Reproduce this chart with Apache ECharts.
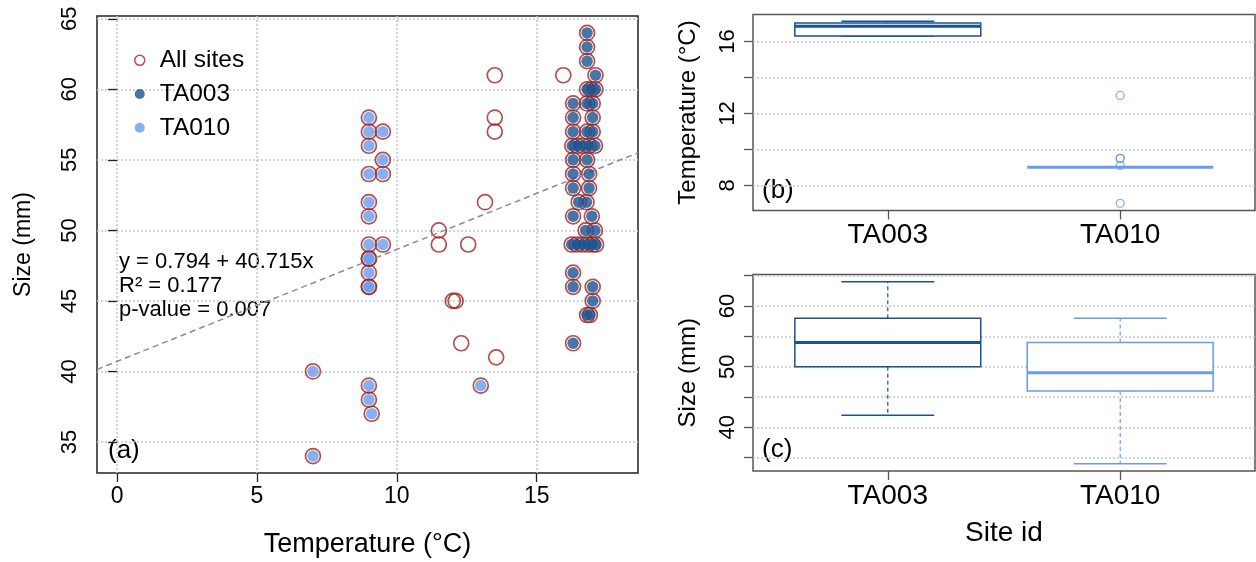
<!DOCTYPE html>
<html>
<head>
<meta charset="utf-8">
<script src="https://cdn.jsdelivr.net/npm/echarts@6/dist/echarts.min.js"></script>
<style>
html,body{margin:0;padding:0;background:#fff;}
#chart{width:1256px;height:562px;}
</style>
</head>
<body>
<div id="chart"></div>
<script>
// ---------------- DATA ----------------
const sites = ['TA003', 'TA010'];

// Panel (a): points (temperature °C, size mm)
const ta003Temp = [16.8, 16.8, 16.8, 17.1, 16.8, 16.95, 17.1, 16.3, 16.8, 17.0, 16.3, 17.0, 16.3, 16.8, 17.0,
                   16.27, 16.45, 16.65, 16.87, 17.08, 16.3, 16.8, 16.3, 16.87, 16.3, 16.87, 16.5, 16.78, 16.3, 16.97,
                   16.75, 17.08, 16.25, 16.43, 16.63, 16.82, 17.0, 17.12, 16.3, 16.3, 17.0, 17.0, 16.8, 16.9, 16.3];
const ta003Size = [64, 63, 62, 61, 60, 60, 60, 59, 59, 59, 58, 58, 57, 57, 57,
                   56, 56, 56, 56, 56, 55, 55, 54, 54, 53, 53, 52, 52, 51, 51,
                   50, 50, 49, 49, 49, 49, 49, 49, 47, 46, 46, 45, 44, 44, 42];

const ta010Temp = [9, 9, 9.5, 9, 9.5, 9, 9.5, 9, 9, 9, 9.5, 9, 9, 9, 9, 9, 9, 9, 9.1, 7, 7, 13];
const ta010Size = [58, 57, 57, 56, 55, 54, 54, 52, 51, 49, 49, 48, 48, 47, 46, 46, 39, 38, 37, 40, 34, 39];

const otherTemp = [11.5, 11.5, 12.55, 12.0, 12.1, 12.3, 13.55, 13.5, 13.5, 13.5, 13.15, 15.95];
const otherSize = [50, 49, 49, 45, 45, 42, 41, 61, 58, 57, 52, 61];

// Regression shown in panel (a)
const fitIntercept = 40.715;
const fitSlope = 0.794;
const fitLabel = ['y = 0.794 + 40.715x', 'R² = 0.177', 'p-value = 0.007'];

// Panel (b) and (c): boxplot statistics [min, Q1, median, Q3, max]
const tempStats = [[16.3, 16.3, 16.84, 17.03, 17.12], [9, 9, 9, 9, 9]];
const tempOutliers = [[], [13, 9.5, 9.5, 9.1, 7]];
const sizeStats = [[42, 50, 54, 58, 64], [34, 46, 49, 54, 58]];
const sizeOutliers = [[], []];

// Tick values / labels
const tempTicksA = [0, 5, 10, 15];
const sizeTicks = [35, 40, 45, 50, 55, 60, 65];
const sizeLabelsC = [40, 50, 60];
const tempTicksB = [8, 10, 12, 14, 16];
const tempLabelsB = [8, 12, 16];
const sitePos = [1, 2];

// ---------------- STYLE ----------------
const FONT = '"Liberation Sans", Arial, Helvetica, sans-serif';
const siteColors = ['#1b5290', '#6a9bec'];
const allColor = '#a02222';
const gridLine = { show: true, lineStyle: { color: '#c6c6c6', width: 1.5, type: [2, 2] } };
const tempRangeA = [-0.72, 18.62];
const sizeRange = [32.8, 65.2];
const tempRangeB = [6.6, 17.5];
const siteRange = [0.42, 2.58];
const boxWidth = 0.8;
const stapleRatio = 0.5;

const zip = (a, b) => a.map((v, i) => [v, b[i]]);
const ta003Pts = zip(ta003Temp, ta003Size);
const ta010Pts = zip(ta010Temp, ta010Size);
const otherPts = zip(otherTemp, otherSize);
const allPts = ta003Pts.concat(ta010Pts, otherPts);
const fitPts = tempRangeA.map(x => [x, fitIntercept + fitSlope * x]);

function boxRenderer(params, api) {
  const p = api.value(0);
  const v = [api.value(1), api.value(2), api.value(3), api.value(4), api.value(5)];
  const col = siteColors[params.dataIndex];
  const half = api.size([boxWidth, 0])[0] / 2;
  const xc = api.coord([p, v[2]])[0];
  const Y = val => api.coord([p, val])[1];
  const sh = half * stapleRatio;
  const dash = { stroke: col, lineWidth: 1.2, lineDash: [4, 3] };
  const solid = { stroke: col, lineWidth: 1.5 };
  return {
    type: 'group',
    children: [
      { type: 'line', shape: { x1: xc, y1: Y(v[3]), x2: xc, y2: Y(v[4]) }, style: dash },
      { type: 'line', shape: { x1: xc, y1: Y(v[1]), x2: xc, y2: Y(v[0]) }, style: dash },
      { type: 'line', shape: { x1: xc - sh, y1: Y(v[4]), x2: xc + sh, y2: Y(v[4]) }, style: solid },
      { type: 'line', shape: { x1: xc - sh, y1: Y(v[0]), x2: xc + sh, y2: Y(v[0]) }, style: solid },
      { type: 'rect', shape: { x: xc - half, y: Y(v[3]), width: 2 * half, height: Math.max(Y(v[1]) - Y(v[3]), 0) },
        style: { fill: '#ffffff', stroke: col, lineWidth: 1.5 } },
      { type: 'line', shape: { x1: xc - half, y1: Y(v[2]), x2: xc + half, y2: Y(v[2]) }, style: { stroke: col, lineWidth: 3 } }
    ]
  };
}

function outlierPts(list) {
  const out = [];
  list.forEach((arr, i) => arr.forEach(v => out.push({ value: [sitePos[i], v], itemStyle: { borderColor: siteColors[i] } })));
  return out;
}

const chart = echarts.init(document.getElementById('chart'), null, { renderer: 'canvas' });

const tickStyle = (c) => ({ show: true, length: 9, lineStyle: { color: c, width: 1.3 } });

const option = {
  animation: false,
  backgroundColor: '#ffffff',
  textStyle: { fontFamily: FONT, color: '#000' },
  grid: [
    { left: 97, top: 16, width: 541, height: 457, show: true, borderColor: '#222', borderWidth: 1.5, backgroundColor: 'transparent', containLabel: false, outerBoundsMode: 'none' },
    { left: 753, top: 14.5, width: 502, height: 196, show: true, borderColor: '#555', borderWidth: 1.5, backgroundColor: 'transparent', containLabel: false, outerBoundsMode: 'none' },
    { left: 753, top: 274.5, width: 502, height: 196.5, show: true, borderColor: '#555', borderWidth: 1.5, backgroundColor: 'transparent', containLabel: false, outerBoundsMode: 'none' }
  ],
  xAxis: [
    {
      gridIndex: 0, type: 'value', min: tempRangeA[0], max: tempRangeA[1], splitNumber: 4,
      axisLine: { show: false },
      axisTick: Object.assign(tickStyle('#222'), { customValues: tempTicksA }),
      axisLabel: { customValues: tempTicksA, fontSize: 23, color: '#000', margin: 12, fontFamily: FONT },
      splitLine: gridLine,
      name: 'Temperature (°C)', nameLocation: 'middle', nameGap: 58, nameMoveOverlap: false,
      nameTextStyle: { fontSize: 27, color: '#000', fontFamily: FONT }
    },
    {
      gridIndex: 1, type: 'value', min: siteRange[0], max: siteRange[1],
      axisLine: { show: false },
      axisTick: Object.assign(tickStyle('#555'), { customValues: sitePos }),
      axisLabel: { customValues: sitePos, fontSize: 28, color: '#000', margin: 11, fontFamily: FONT,
        formatter: v => sites[Math.round(v) - 1] || '' },
      splitLine: { show: false }
    },
    {
      gridIndex: 2, type: 'value', min: siteRange[0], max: siteRange[1],
      axisLine: { show: false },
      axisTick: Object.assign(tickStyle('#555'), { customValues: sitePos }),
      axisLabel: { customValues: sitePos, fontSize: 28, color: '#000', margin: 11, fontFamily: FONT,
        formatter: v => sites[Math.round(v) - 1] || '' },
      splitLine: { show: false },
      name: 'Site id', nameLocation: 'middle', nameGap: 48, nameMoveOverlap: false,
      nameTextStyle: { fontSize: 28, color: '#000', fontFamily: FONT }
    }
  ],
  yAxis: [
    {
      gridIndex: 0, type: 'value', min: sizeRange[0], max: sizeRange[1], splitNumber: 5,
      axisLine: { show: false },
      axisTick: Object.assign(tickStyle('#222'), { customValues: sizeTicks }),
      axisLabel: { customValues: sizeTicks, fontSize: 22, color: '#000', margin: 16, rotate: 90, fontFamily: FONT },
      splitLine: gridLine,
      name: 'Size (mm)', nameLocation: 'middle', nameGap: 62, nameMoveOverlap: false,
      nameTextStyle: { fontSize: 23, color: '#000', fontFamily: FONT }
    },
    {
      gridIndex: 1, type: 'value', min: tempRangeB[0], max: tempRangeB[1], splitNumber: 5,
      axisLine: { show: false },
      axisTick: Object.assign(tickStyle('#555'), { customValues: tempTicksB }),
      axisLabel: { customValues: tempLabelsB, fontSize: 22, color: '#000', margin: 14, rotate: 90, fontFamily: FONT },
      splitLine: gridLine,
      name: 'Temperature (°C)', nameLocation: 'middle', nameGap: 53, nameMoveOverlap: false,
      nameTextStyle: { fontSize: 24, color: '#000', fontFamily: FONT }
    },
    {
      gridIndex: 2, type: 'value', min: sizeRange[0], max: sizeRange[1], splitNumber: 5,
      axisLine: { show: false },
      axisTick: Object.assign(tickStyle('#555'), { customValues: sizeTicks }),
      axisLabel: { customValues: sizeLabelsC, fontSize: 22, color: '#000', margin: 14, rotate: 90, fontFamily: FONT },
      splitLine: gridLine,
      name: 'Size (mm)', nameLocation: 'middle', nameGap: 53, nameMoveOverlap: false,
      nameTextStyle: { fontSize: 24, color: '#000', fontFamily: FONT }
    }
  ],
  legend: {
    orient: 'vertical', left: 134, top: 43.5, padding: 0, itemGap: 0,
    itemWidth: 30, itemHeight: 10, selectedMode: false,
    textStyle: { fontSize: 24.5, color: '#000', lineHeight: 33.7, fontFamily: FONT },
    data: [
      { name: 'All sites', icon: 'circle', itemStyle: { color: 'rgba(255,255,255,0)', borderColor: allColor, borderWidth: 1.5 } },
      { name: sites[0], icon: 'circle', itemStyle: { color: siteColors[0], borderWidth: 0 } },
      { name: sites[1], icon: 'circle', itemStyle: { color: siteColors[1], borderWidth: 0 } }
    ]
  },
  graphic: [
    { type: 'text', left: 108, top: 438, style: { text: '(a)', fontSize: 26, fill: '#000', fontFamily: FONT } },
    { type: 'text', left: 762, top: 178, style: { text: '(b)', fontSize: 26, fill: '#000', fontFamily: FONT } },
    { type: 'text', left: 762, top: 437, style: { text: '(c)', fontSize: 26, fill: '#000', fontFamily: FONT } },
    { type: 'text', left: 119, top: 251, style: { text: fitLabel[0], fontSize: 22, fill: '#000', fontFamily: FONT } },
    { type: 'text', left: 119, top: 275, style: { text: fitLabel[1], fontSize: 22, fill: '#000', fontFamily: FONT } },
    { type: 'text', left: 119, top: 299, style: { text: fitLabel[2], fontSize: 22, fill: '#000', fontFamily: FONT } }
  ],
  series: [
    {
      name: 'All sites', type: 'scatter', xAxisIndex: 0, yAxisIndex: 0, data: allPts,
      symbol: 'circle', symbolSize: 15, silent: true, z: 2,
      itemStyle: { color: 'rgba(255,255,255,0)', borderColor: allColor, borderWidth: 1.7 }
    },
    {
      name: 'fit', type: 'line', xAxisIndex: 0, yAxisIndex: 0, data: fitPts,
      symbol: 'none', silent: true, z: 3,
      lineStyle: { color: '#8c8c8c', width: 1.5, type: [6, 4] }
    },
    {
      name: sites[0], type: 'scatter', xAxisIndex: 0, yAxisIndex: 0, data: ta003Pts,
      symbol: 'circle', symbolSize: 11.5, silent: true, z: 4,
      itemStyle: { color: siteColors[0] }
    },
    {
      name: sites[1], type: 'scatter', xAxisIndex: 0, yAxisIndex: 0, data: ta010Pts,
      symbol: 'circle', symbolSize: 11.5, silent: true, z: 4,
      itemStyle: { color: siteColors[1] }
    },
    {
      name: 'tempBox', type: 'custom', xAxisIndex: 1, yAxisIndex: 1, silent: true, z: 3,
      data: tempStats.map((s, i) => [sitePos[i]].concat(s)),
      encode: { x: 0, y: [1, 2, 3, 4, 5] },
      renderItem: boxRenderer
    },
    {
      name: 'tempOut', type: 'scatter', xAxisIndex: 1, yAxisIndex: 1, silent: true, z: 4,
      data: outlierPts(tempOutliers), symbol: 'circle', symbolSize: 8,
      itemStyle: { color: 'rgba(255,255,255,0)', borderWidth: 1.3 }
    },
    {
      name: 'sizeBox', type: 'custom', xAxisIndex: 2, yAxisIndex: 2, silent: true, z: 3,
      data: sizeStats.map((s, i) => [sitePos[i]].concat(s)),
      encode: { x: 0, y: [1, 2, 3, 4, 5] },
      renderItem: boxRenderer
    },
    {
      name: 'sizeOut', type: 'scatter', xAxisIndex: 2, yAxisIndex: 2, silent: true, z: 4,
      data: outlierPts(sizeOutliers), symbol: 'circle', symbolSize: 8,
      itemStyle: { color: 'rgba(255,255,255,0)', borderWidth: 1.3 }
    }
  ]
};

chart.setOption(option);
</script>
</body>
</html>
